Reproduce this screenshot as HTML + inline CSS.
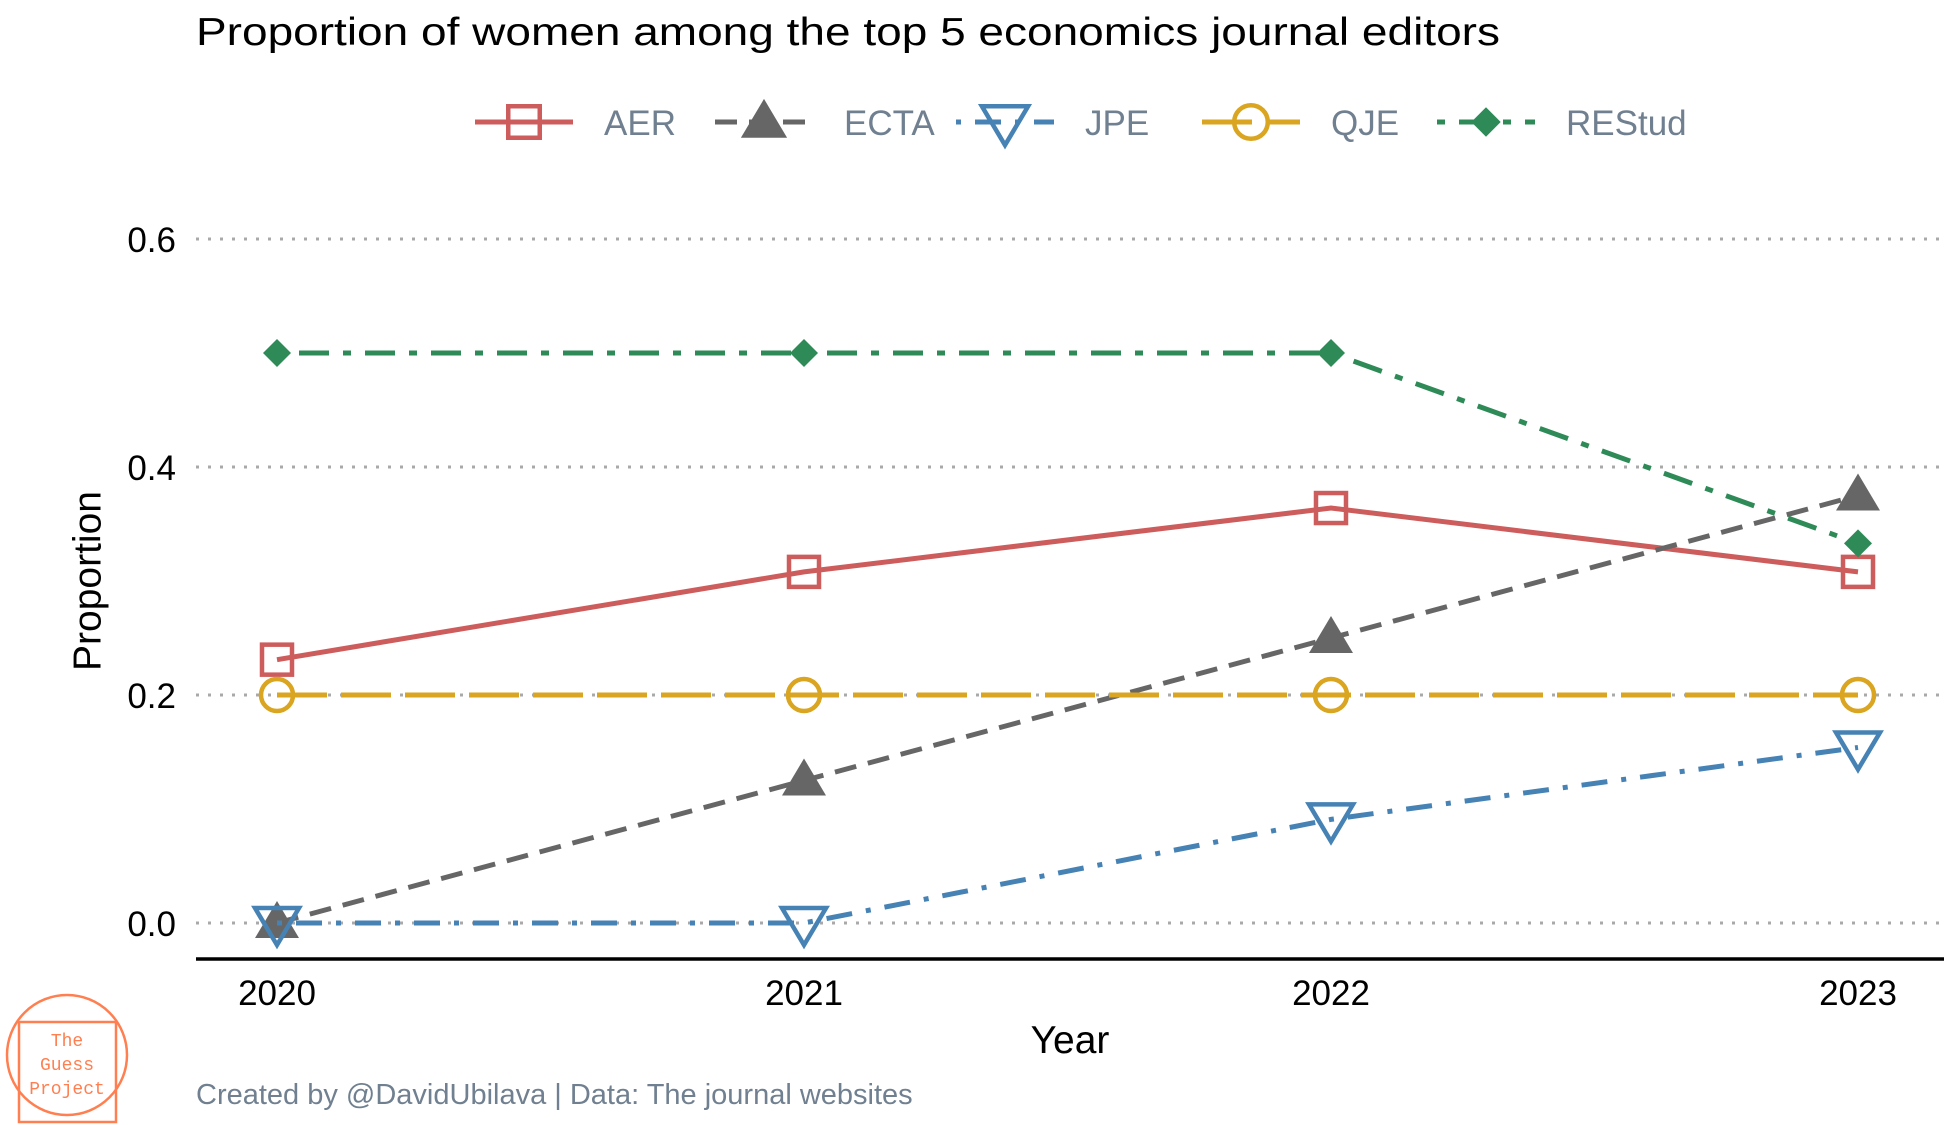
<!DOCTYPE html>
<html><head><meta charset="utf-8"><style>body{margin:0;background:#fff}svg{display:block;font-family:"Liberation Sans",sans-serif}</style></head>
<body>
<svg id="chart" width="1950" height="1125" viewBox="0 0 1950 1125">
<text x="196" y="45" font-size="39" textLength="1304" lengthAdjust="spacingAndGlyphs" fill="#000">Proportion of women among the top 5 economics journal editors</text>
<g id="legend"></g>
<g id="grid"></g>
<g id="yticks"></g>
<line x1="196" x2="1944" y1="959" y2="959" stroke="#000" stroke-width="3.5"/>
<g id="xticks"></g>
<g id="series"></g>
<text x="90" y="581" font-size="39" text-anchor="middle" transform="rotate(-90 90 581)" dominant-baseline="middle">Proportion</text>
<text x="1070" y="1053" font-size="39" text-anchor="middle">Year</text>
<text x="196" y="1104" font-size="29" fill="#708090">Created by @DavidUbilava | Data: The journal websites</text>
<g stroke="#ff7f50" stroke-width="2.5" fill="none">
<circle cx="67" cy="1055" r="60"/>
<rect x="19" y="1022" width="97" height="100"/>
<text x="67" y="1046" font-family="Liberation Mono,monospace" font-size="18" fill="#ff7f50" stroke="none" text-anchor="middle">The</text>
<text x="67" y="1070" font-family="Liberation Mono,monospace" font-size="18" fill="#ff7f50" stroke="none" text-anchor="middle">Guess</text>
<text x="67" y="1094" font-family="Liberation Mono,monospace" font-size="18" fill="#ff7f50" stroke="none" text-anchor="middle">Project</text>
</g>
</svg>
<script>
const years=[2020,2021,2022,2023];
const yTicks=[0,0.2,0.4,0.6];
const yTickLabels=["0.0","0.2","0.4","0.6"];
const aer=[0.231,0.308,0.364,0.308];
const ecta=[0,0.125,0.25,0.375];
const jpe=[0,0,0.0909,0.154];
const qje=[0.2,0.2,0.2,0.2];
const restud=[0.5,0.5,0.5,0.333];
const seriesNames=["AER","ECTA","JPE","QJE","REStud"];

const NS="http://www.w3.org/2000/svg";
const xS=v=>277+(v-2020)*527;
const yS=v=>923-v*1140;
function mk(tag,attrs,parent){const e=document.createElementNS(NS,tag);for(const k in attrs)e.setAttribute(k,attrs[k]);parent.appendChild(e);return e;}
const grid=document.getElementById('grid'),yt=document.getElementById('yticks'),xt=document.getElementById('xticks'),sg=document.getElementById('series'),lg=document.getElementById('legend');
yTicks.forEach((t,i)=>{
 const l=mk('line',{x1:196,x2:1944,y1:yS(t),y2:yS(t),stroke:'#a9a9a9','stroke-width':3,'stroke-dasharray':'3 9'},grid);
 
 
 const tx=mk('text',{x:176,y:yS(t)+13,'font-size':35,'text-anchor':'end'},yt);tx.textContent=yTickLabels[i];
 
 
});
years.forEach(y=>{
 const tx=mk('text',{x:xS(y),y:1005,'font-size':35,'text-anchor':'middle'},xt);tx.textContent=y;
 
 
});
const styles=[
 {d:aer,c:'#cd5c5c',dash:'',m:'square'},
 {d:ecta,c:'#666666',dash:'22 12',m:'tri'},
 {d:jpe,c:'#4682b4',dash:'5 14 26 14',m:'itri'},
 {d:qje,c:'#daa520',dash:'50 14',m:'circle'},
 {d:restud,c:'#2e8b57',dash:'8 14 30 14',m:'diamond'}];
function marker(type,x,y,c,p,s){
 s=s||1;let e;
 if(type==='square')e=mk('rect',{x:x-15*s,y:y-15*s,width:30*s,height:30*s,fill:'none',stroke:c,'stroke-width':4.5},p);
 else if(type==='tri')e=mk('polygon',{points:`${x},${y-22*s} ${x-22*s},${y+15*s} ${x+22*s},${y+15*s}`,fill:c},p);
 else if(type==='itri')e=mk('polygon',{points:`${x-22*s},${y-15*s} ${x+22*s},${y-15*s} ${x},${y+22*s}`,fill:'none',stroke:c,'stroke-width':4.5},p);
 else if(type==='circle')e=mk('circle',{cx:x,cy:y,r:16*s,fill:'none',stroke:c,'stroke-width':4.5},p);
 else e=mk('polygon',{points:`${x},${y-14*s} ${x+14*s},${y} ${x},${y+14*s} ${x-14*s},${y}`,fill:c},p);
 return e;
}
styles.forEach((st,i)=>{
 const pts=st.d.map((v,j)=>xS(years[j])+','+yS(v)).join(' ');
 const pl=mk('polyline',{points:pts,fill:'none',stroke:st.c,'stroke-width':5,'stroke-dasharray':st.dash},sg);
 
 
 st.d.forEach((v,j)=>{const m=marker(st.m,xS(years[j]),yS(v),st.c,sg);
  
  });
 const lx=[475,715,956,1202,1437][i],ly=122;
 const ll=mk('line',{x1:lx,x2:lx+98,y1:ly,y2:ly,stroke:st.c,'stroke-width':5,'stroke-dasharray':st.dash},lg);
 
 
 const lm=marker(st.m,lx+49,ly,st.c,lg,1.05);
 
 
 const lt=mk('text',{x:lx+129,y:ly+13,'font-size':35,fill:'#708090'},lg);lt.textContent=seriesNames[i];
 
 
});
</script>
</body></html>
